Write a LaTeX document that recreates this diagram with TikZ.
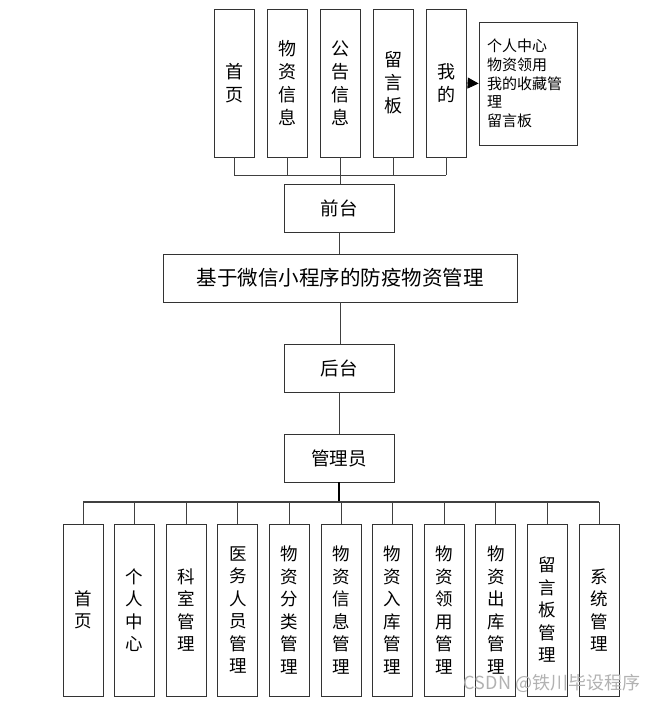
\documentclass[tikz,border=0pt]{standalone}
\usepackage{fontspec}
\setmainfont{Noto Sans CJK SC}
\usetikzlibrary{arrows.meta,positioning}
\tikzset{
  menu box/.style={
    draw=black!80,fill=white,line width=0.8pt,
    minimum width=40pt,minimum height=148pt,inner sep=0pt,
    align=center,font=\fontsize{18}{23}\selectfont
  },
  module box/.style={
    menu box,minimum height=172pt,font=\fontsize{17.5}{22.5}\selectfont
  },
  level box/.style={
    draw=black!80,fill=white,line width=0.8pt,
    minimum width=110pt,minimum height=48pt,inner sep=0pt,
    font=\fontsize{18.5}{20}\selectfont
  },
  list box/.style={
    draw=black!80,fill=white,line width=0.8pt,
    minimum height=123pt,inner xsep=8pt,inner ysep=0pt,
    text width=82pt,align=left,font=\fontsize{15}{18.75}\selectfont
  },
  tree line/.style={draw=black!75,line width=0.8pt}
}
\begin{document}
\begin{tikzpicture}[x=1pt,y=-1pt]
  \useasboundingbox (0,0) rectangle (664,703);

  % front end menus
  \foreach \i/\t in {1/{首\\页},2/{物\\资\\信\\息},3/{公\\告\\信\\息},4/{留\\言\\板},5/{我\\的}}
    \node[menu box] (t\i) at ({234+53*(\i-1)},83) {\t};

  \node[list box] (mine) at (528,83.5) {个人中心\\物资领用\\我的收藏管\\理\\留言板};
  \draw[tree line,-{Triangle[length=11pt,width=11pt]},black] (t5.east) -- (mine.west);

  % levels
  \node[level box] (front) at (339,208) {前台};
  \node[level box,minimum width=354pt,font=\fontsize{20.5}{22}\selectfont] (sys) at (340,278) {基于微信小程序的防疫物资管理};
  \node[level box] (back) at (339,368) {后台};
  \node[level box] (admin) at (339,458) {管理员};

  \coordinate (topbus) at (340,175);
  \foreach \i in {1,...,5}
    \draw[tree line] (t\i.south) -- (t\i.south |- topbus);
  \draw[tree line] (t1.south |- topbus) -- (t5.south |- topbus);
  \draw[tree line] (t3.south |- topbus) -- (front.north -| t3.south);
  \draw[tree line] (sys.south) -- (back.north -| sys.south);
  \draw[tree line] (back.south) -- (admin.north);
  \draw[tree line] (front.south) -- (sys.north -| front.south);

  % back end modules
  \foreach \i/\t in {1/{首\\页},2/{个\\人\\中\\心},3/{科\\室\\管\\理},
      4/{医\\务\\人\\员\\管\\理},5/{物\\资\\分\\类\\管\\理},6/{物\\资\\信\\息\\管\\理},
      7/{物\\资\\入\\库\\管\\理},8/{物\\资\\领\\用\\管\\理},9/{物\\资\\出\\库\\管\\理},
      10/{留\\言\\板\\管\\理},11/{系\\统\\管\\理}}
    \node[module box] (b\i) at ({83+51.6*(\i-1)},610) {\t};

  \coordinate (botbus) at (339,502);
  \draw[tree line,line width=1.6pt,black] (admin.south) -- (botbus);
  \draw[tree line,line width=1.2pt] (b1.north |- botbus) -- (b11.north |- botbus);
  \foreach \i in {1,...,11}
    \draw[tree line] (b\i.north) -- (b\i.north |- botbus);

  \node[text=black!30,font=\fontsize{18}{20}\selectfont] (mark) at (552,683) {CSDN @铁川毕设程序};
\end{tikzpicture}
\end{document}
